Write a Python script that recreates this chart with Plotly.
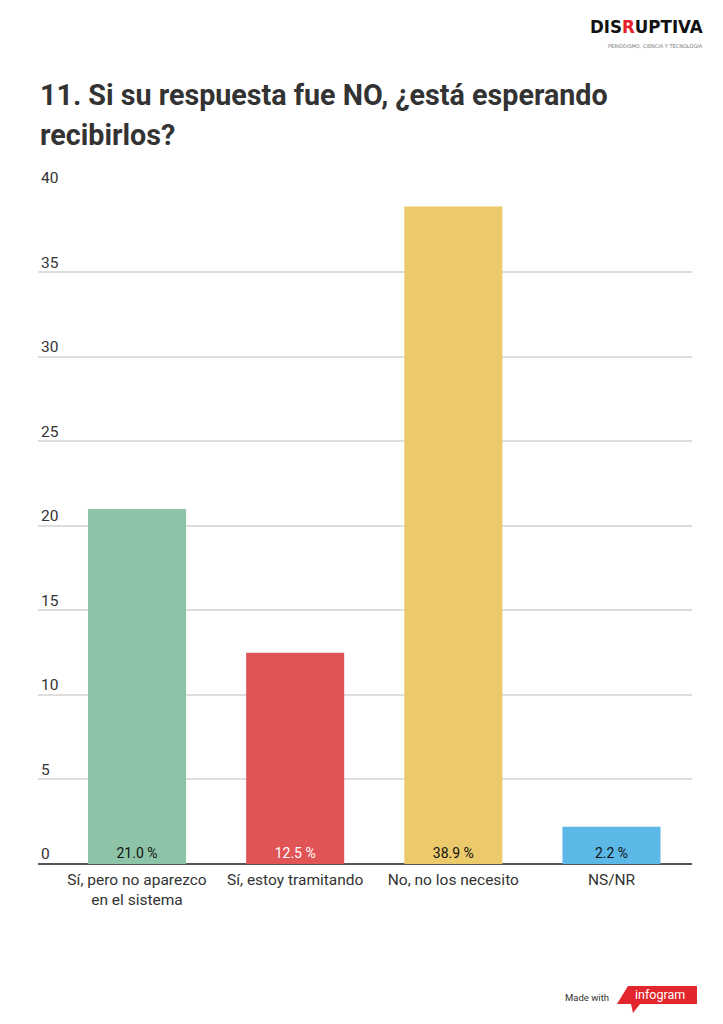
import plotly.graph_objects as go

categories = ["Sí, pero no aparezco<br>en el sistema", "Sí, estoy tramitando", "No, no los necesito", "NS/NR"]
values = [21.0, 12.5, 38.9, 2.2]
bar_colors = ["#8dc3a7", "#e05456", "#ecc96a", "#5cb8e6"]
text_colors = ["#111111", "#ffffff", "#111111", "#111111"]
y_ticks = [0, 5, 10, 15, 20, 25, 30, 35, 40]
title_lines = ["11. Si su respuesta fue NO, ¿está esperando", "recibirlos?"]

fig = go.Figure()
fig.add_trace(go.Bar(
    x=categories,
    y=values,
    marker=dict(color=bar_colors, line=dict(width=0)),
    width=0.62,
    text=[f"{v:.1f} %" for v in values],
    textposition="inside",
    insidetextanchor="start",
    textangle=0,
    textfont=dict(family="Roboto", size=14, color=text_colors),
    hoverinfo="skip",
))

# The page body has an 8px margin, so the figure is shifted by 8px; margins compensate.
fig.update_layout(
    width=723,
    height=1024,
    paper_bgcolor="white",
    plot_bgcolor="white",
    margin=dict(l=30, r=39, t=179, b=168, autoexpand=False),
    showlegend=False,
    font=dict(family="Roboto", color="#333333"),
    xaxis=dict(
        type="category",
        range=[-0.626, 3.509],
        showgrid=False,
        showline=False,
        ticks="",
        ticklabelstandoff=4,
        tickfont=dict(family="Roboto", size=15.5, color="#333333"),
        fixedrange=True,
    ),
    yaxis=dict(
        range=[0, 40.05],
        tickvals=y_ticks,
        ticktext=[str(t) for t in y_ticks],
        showgrid=True,
        gridcolor="#dddddd",
        gridwidth=1.5,
        zeroline=True,
        zerolinecolor="#555555",
        zerolinewidth=2,
        showline=False,
        ticks="",
        ticklabelposition="inside",
        ticklabelshift=-10,
        ticklabeloverflow="allow",
        tickfont=dict(family="Roboto", size=15.5, color="#333333"),
        fixedrange=True,
    ),
)

# Title (two lines, with the reference's wider line spacing)
for i, line in enumerate(title_lines):
    fig.add_annotation(
        text=f"<b>{line}</b>",
        xref="paper", yref="paper", x=0, y=1.164 - i * 0.0591, xanchor="left", yanchor="top",
        align="left", showarrow=False,
        font=dict(family="Roboto", size=28.7, color="#333333"),
    )

# Logo
fig.add_annotation(
    text="<b>DIS<span style='color:#e8202a'>R</span>UPTIVA</b>",
    xref="paper", yref="paper", x=1.0199, y=1.2555, xanchor="right", yanchor="top",
    showarrow=False,
    font=dict(family="DejaVu Sans Condensed", size=18.5, color="#111111"),
)
fig.add_annotation(
    text="PERIODISMO, CIENCIA Y TECNOLOGÍA",
    xref="paper", yref="paper", x=1.0199, y=1.2083, xanchor="right", yanchor="middle",
    showarrow=False,
    font=dict(family="DejaVu Sans", size=5, color="#777777"),
)

# Footer "Made with infogram"
fig.add_shape(
    type="path",
    xref="paper", yref="paper",
    path="M 0.9021 -0.1802 L 1.0076 -0.1802 L 1.0076 -0.2068 L 0.9205 -0.2068 L 0.9098 -0.2201 L 0.9067 -0.2068 L 0.8853 -0.2068 Z",
    fillcolor="#e1272d", line=dict(width=0),
)
fig.add_annotation(
    text="Made with",
    xref="paper", yref="paper", x=0.8761, y=-0.1979, xanchor="right", yanchor="middle",
    showarrow=False,
    font=dict(family="Roboto", size=9.5, color="#333333"),
)
fig.add_annotation(
    text="infogram",
    xref="paper", yref="paper", x=0.9511, y=-0.1935, xanchor="center", yanchor="middle",
    showarrow=False,
    font=dict(family="Roboto", size=12.5, color="#ffffff"),
)

fig.write_html("out.html")
